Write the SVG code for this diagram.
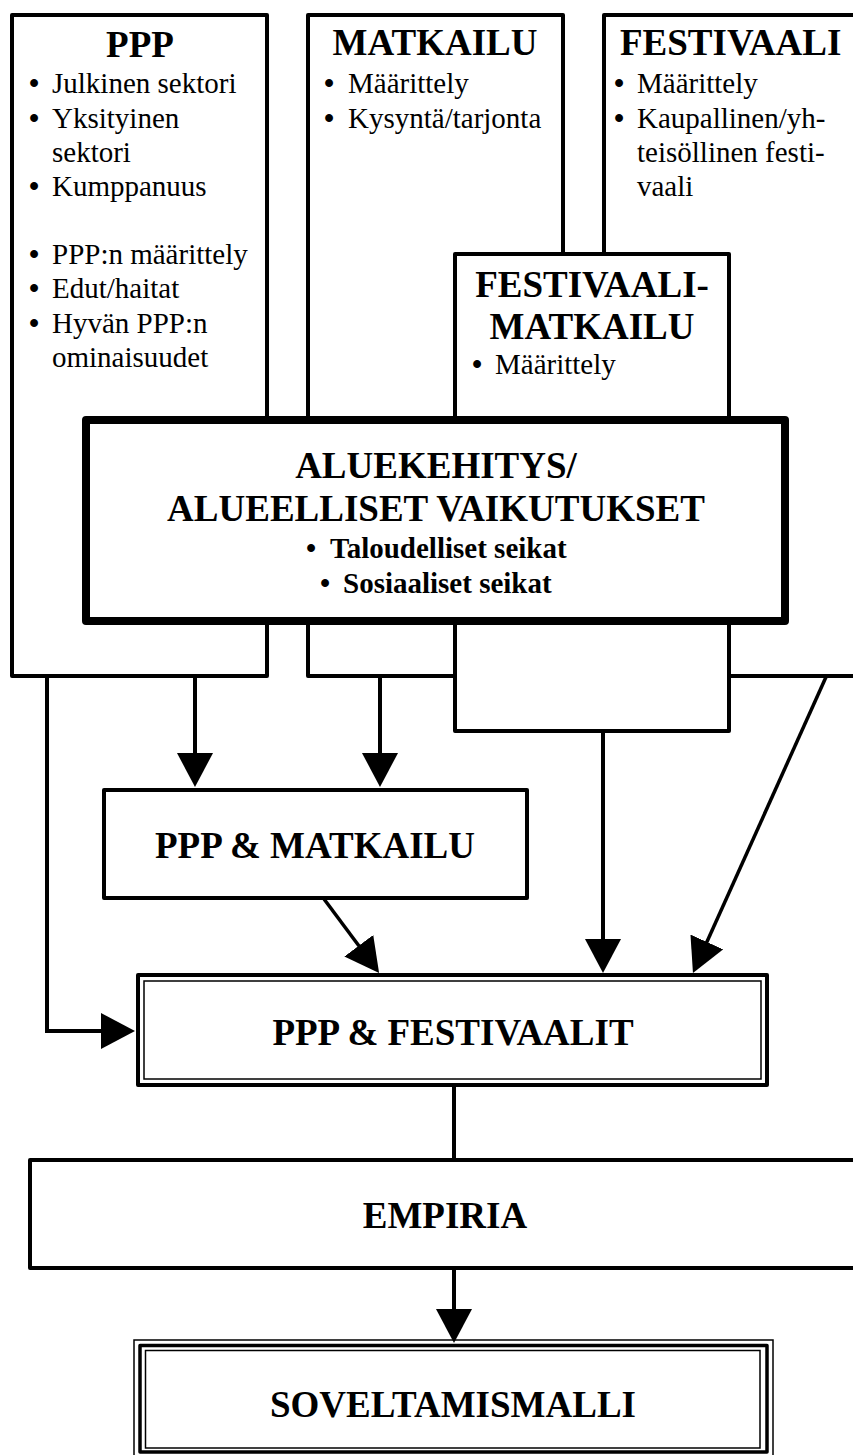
<svg xmlns="http://www.w3.org/2000/svg" width="853" height="1455" viewBox="0 0 853 1455">
<defs>
<style>
.box{fill:#fff;stroke:#000;stroke-width:4;stroke-linejoin:round}
.thick{fill:#fff;stroke:#000;stroke-width:8;stroke-linejoin:round}
.thin{fill:none;stroke:#000;stroke-width:1.5}
.h{font-family:"Liberation Serif","Times New Roman",serif;font-weight:bold;font-size:37px;fill:#000}
.t{font-family:"Liberation Serif","Times New Roman",serif;font-size:29px;fill:#000}
.tb{font-family:"Liberation Serif","Times New Roman",serif;font-size:29px;font-weight:bold;fill:#000}
.bul{font-weight:bold}
.c{text-anchor:middle}
.ln{fill:none;stroke:#000;stroke-width:4}
.lnd{fill:none;stroke:#000;stroke-width:3.5}
</style>
<marker id="ah" markerUnits="userSpaceOnUse" markerWidth="34" markerHeight="36" refX="30" refY="18" orient="auto" viewBox="0 0 34 36">
<path d="M0,0 L34,18 L0,36 Z" fill="#000"/>
</marker>
</defs>
<rect width="853" height="1455" fill="#fff"/>

<g id="ppp">
<rect class="box" x="12" y="15" width="255" height="661"/>
<text class="h c" x="140" y="57">PPP</text>
<text class="t" y="93"><tspan class="bul" x="29">•</tspan><tspan x="52">Julkinen sektori</tspan></text>
<text class="t" y="128"><tspan class="bul" x="29">•</tspan><tspan x="52">Yksityinen</tspan></text>
<text class="t" x="52" y="162">sektori</text>
<text class="t" y="196"><tspan class="bul" x="29">•</tspan><tspan x="52">Kumppanuus</tspan></text>
<text class="t" y="264"><tspan class="bul" x="29">•</tspan><tspan x="52">PPP:n määrittely</tspan></text>
<text class="t" y="298"><tspan class="bul" x="29">•</tspan><tspan x="52">Edut/haitat</tspan></text>
<text class="t" y="333"><tspan class="bul" x="29">•</tspan><tspan x="52">Hyvän PPP:n</tspan></text>
<text class="t" x="52" y="367">ominaisuudet</text>
</g>

<g id="matkailu">
<rect class="box" x="308" y="15" width="255" height="661"/>
<text class="h c" x="435" y="55">MATKAILU</text>
<text class="t" y="93"><tspan class="bul" x="324">•</tspan><tspan x="348">Määrittely</tspan></text>
<text class="t" y="128"><tspan class="bul" x="324">•</tspan><tspan x="348">Kysyntä/tarjonta</tspan></text>
</g>

<g id="festivaali">
<rect class="box" x="604" y="15" width="280" height="661"/>
<text class="h" x="620" y="55">FESTIVAALI</text>
<text class="t" y="93"><tspan class="bul" x="614">•</tspan><tspan x="637">Määrittely</tspan></text>
<text class="t" y="128"><tspan class="bul" x="614">•</tspan><tspan x="637">Kaupallinen/yh-</tspan></text>
<text class="t" x="637" y="162">teisöllinen festi-</text>
<text class="t" x="637" y="196">vaali</text>
</g>

<g id="festivaalimatkailu">
<rect class="box" x="455" y="254" width="274" height="477"/>
<text class="h c" x="592" y="297">FESTIVAALI-</text>
<text class="h c" x="592" y="339">MATKAILU</text>
<text class="t" y="374"><tspan class="bul" x="472">•</tspan><tspan x="495">Määrittely</tspan></text>
</g>

<g id="aluekehitys">
<rect class="thick" x="86" y="420" width="699" height="201"/>
<text class="h c" x="436" y="478">ALUEKEHITYS/</text>
<text class="h c" x="436" y="521">ALUEELLISET VAIKUTUKSET</text>
<text class="tb" y="558"><tspan x="306">•</tspan><tspan x="330">Taloudelliset seikat</tspan></text>
<text class="tb" y="593"><tspan x="320">•</tspan><tspan x="343">Sosiaaliset seikat</tspan></text>
</g>

<g id="ppp-matkailu">
<rect class="box" x="104" y="790" width="423" height="108"/>
<text class="h c" x="315" y="858">PPP &amp; MATKAILU</text>
</g>

<g id="ppp-festivaalit">
<rect class="box" x="138" y="975" width="629" height="110"/>
<rect class="thin" x="144" y="981" width="617" height="98"/>
<text class="h c" x="453" y="1045">PPP &amp; FESTIVAALIT</text>
</g>

<g id="empiria">
<rect class="box" x="30" y="1160" width="850" height="108"/>
<text class="h c" x="445" y="1228">EMPIRIA</text>
</g>

<g id="soveltamismalli">
<rect class="thin" x="134" y="1340" width="639" height="117"/>
<rect class="box" x="140" y="1345.5" width="627" height="106.5" style="stroke-width:3.5"/>
<rect class="thin" x="145.5" y="1350.5" width="614.5" height="97.5"/>
<text class="h c" x="453" y="1417">SOVELTAMISMALLI</text>
</g>

<g id="connectors">
<line class="ln" x1="195" y1="678" x2="195" y2="783" marker-end="url(#ah)"/>
<line class="ln" x1="380" y1="678" x2="380" y2="783" marker-end="url(#ah)"/>
<polyline class="ln" points="47,678 47,1031 131,1031" marker-end="url(#ah)"/>
<line class="lnd" x1="324" y1="899" x2="376.7" y2="969.8" marker-end="url(#ah)"/>
<line class="ln" x1="603" y1="733" x2="603" y2="969" marker-end="url(#ah)"/>
<line class="lnd" x1="826" y1="677" x2="694.6" y2="969.3" marker-end="url(#ah)"/>
<line class="ln" x1="454" y1="1087" x2="454" y2="1160"/>
<line class="ln" x1="454" y1="1270" x2="454" y2="1339" marker-end="url(#ah)"/>
</g>
</svg>
